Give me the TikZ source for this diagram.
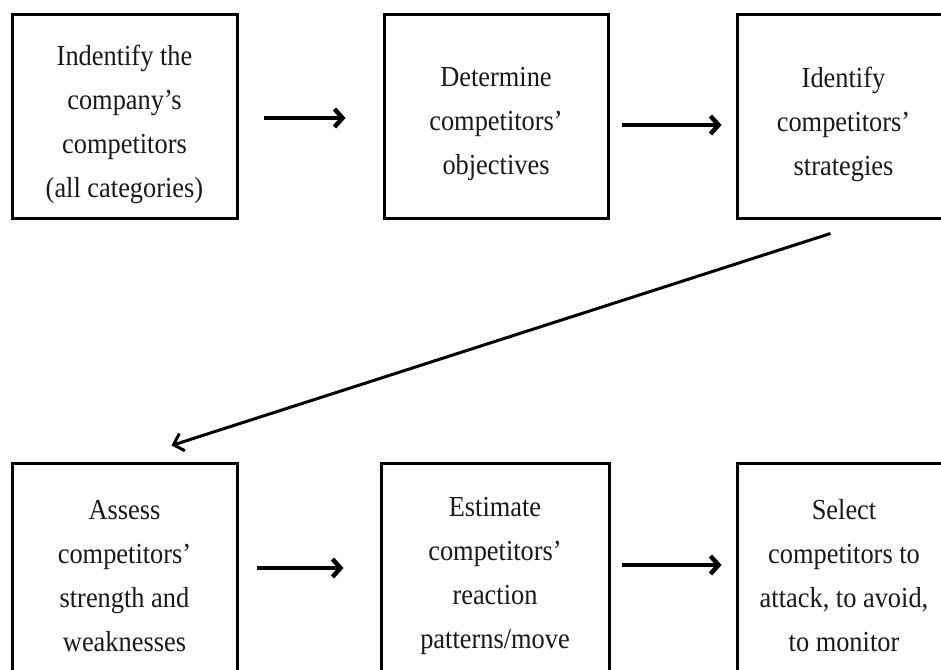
\documentclass[tikz,border=0pt]{standalone}
\usepackage{fontspec}
\setmainfont[FakeStretch=0.91]{Liberation Serif}
\usetikzlibrary{arrows.meta,calc}
\begin{document}
\begin{tikzpicture}[x=1pt,y=-1pt,
  boxstyle/.style={draw=black, line width=3pt, rectangle, inner sep=0pt},
  txt/.style={align=center, font=\fontsize{29}{44}\selectfont, inner sep=0pt, text=black!90},
  arr/.style={line width=4.5pt, -{Straight Barb[length=8pt,width=18pt]}},
  diag/.style={line width=3pt, -{Straight Barb[length=9pt,width=18pt]}}]
\useasboundingbox (0,0) rectangle (941,669);
\fill[white] (0,0) rectangle (941,669);
\clip (0,0) rectangle (941,669);
% top row boxes
\node[boxstyle, minimum width=225pt, minimum height=203pt] (b1) at (124.5,116.5) {};
\node[boxstyle, minimum width=224pt, minimum height=203pt] (b2) at (496,116.5) {};
\node[boxstyle, minimum width=213pt, minimum height=203pt] (b3) at (843.5,116.5) {};
% bottom row boxes
\node[boxstyle, minimum width=225pt, minimum height=217pt] (b4) at (124.5,571.5) {};
\node[boxstyle, minimum width=228pt, minimum height=217pt] (b5) at (495,571.5) {};
\node[boxstyle, minimum width=213pt, minimum height=217pt] (b6) at (843.5,571.5) {};
% texts
\node[txt] (t1) at (124.5,124) {Indentify the\\company’s\\competitors\\(all categories)};
\node[txt] (t2) at (496,124) {Determine\\competitors’\\objectives};
\node[txt] (t3) at (843.5,124) {Identify\\competitors’\\strategies};
\node[txt] (t4) at (124.5,576) {Assess\\competitors’\\strength and\\weaknesses};
\node[txt] (t5) at (495,576) {Estimate\\competitors’\\reaction\\patterns/move};
\node[txt] (t6) at (844,576) {Select\\competitors to\\attack, to avoid,\\to monitor};
% arrows
\draw[arr] ($(b1.east)+(25,1.5)$) -- ($(b2.west)+(-37,1.5)$);
\draw[arr] ($(b2.east)+(12,8.5)$) -- ($(b3.west)+(-14,8.5)$);
\draw[arr] ($(b4.east)+(18,-3.5)$) -- ($(b5.west)+(-36,-3.5)$);
\draw[arr] ($(b5.east)+(11,-6.5)$) -- ($(b6.west)+(-14,-6.5)$);
\draw[diag] ($(b3.south west)+(95,14)$) -- ($(b4.north west)+(161,-16)$);
\end{tikzpicture}
\end{document}
